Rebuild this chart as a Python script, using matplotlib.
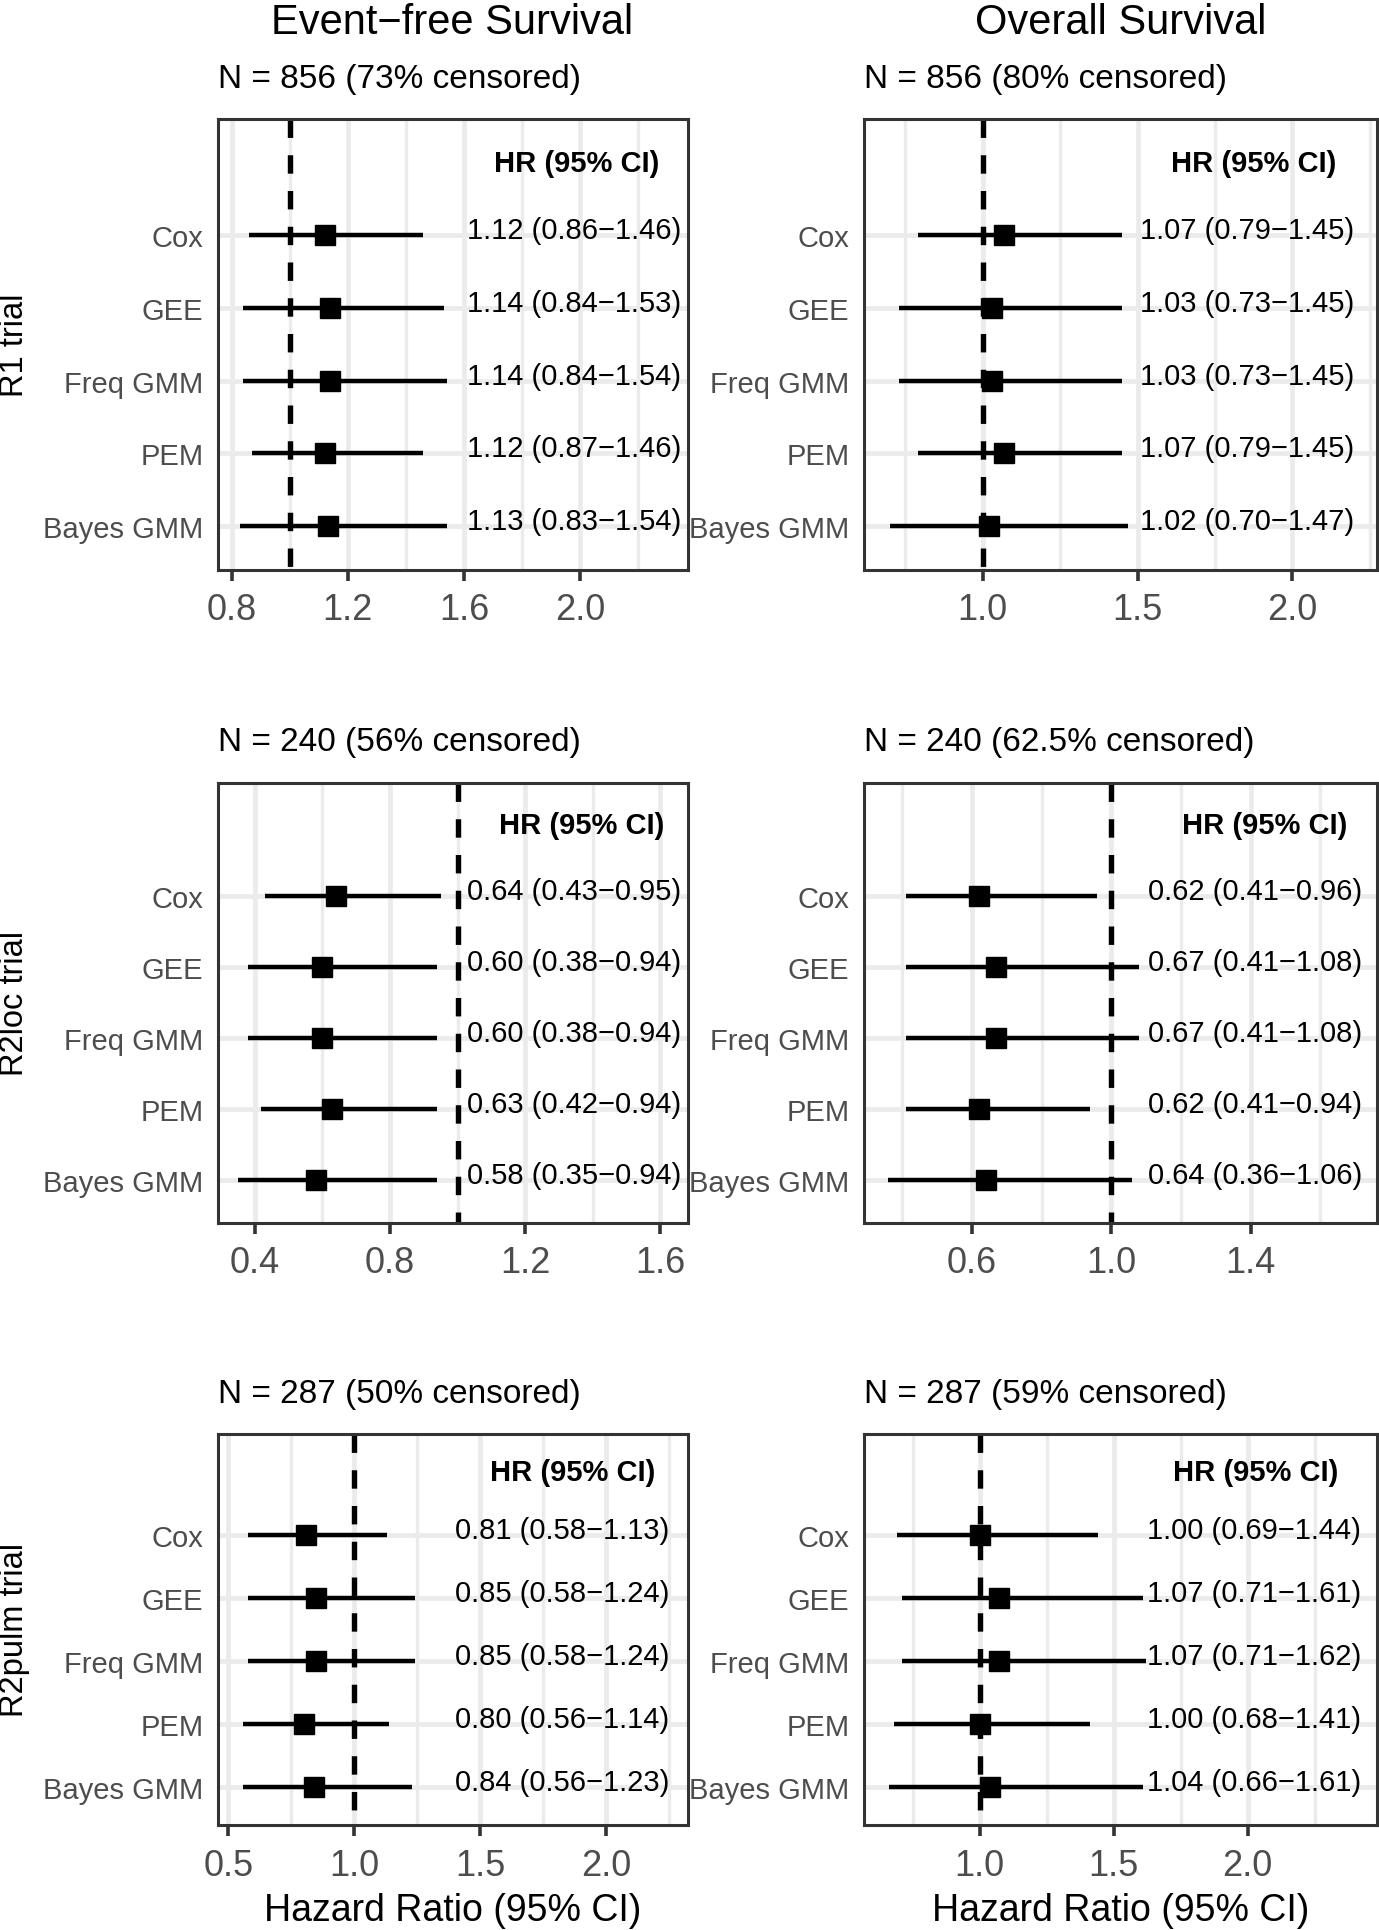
import matplotlib
matplotlib.use("Agg")
import matplotlib.pyplot as plt
import matplotlib.transforms as mtransforms

plt.rcParams['font.family'] = ['Liberation Sans', 'DejaVu Sans']

# ---------------- data ----------------
methods = ["Cox", "GEE", "Freq GMM", "PEM", "Bayes GMM"]
trials = ["R1 trial", "R2loc trial", "R2pulm trial"]
outcomes = ["Event\u2212free Survival", "Overall Survival"]

# Event-free survival
efs_r1_hr = [1.12, 1.14, 1.14, 1.12, 1.13]
efs_r1_lo = [0.86, 0.84, 0.84, 0.87, 0.83]
efs_r1_hi = [1.46, 1.53, 1.54, 1.46, 1.54]

efs_r2loc_hr = [0.64, 0.60, 0.60, 0.63, 0.58]
efs_r2loc_lo = [0.43, 0.38, 0.38, 0.42, 0.35]
efs_r2loc_hi = [0.95, 0.94, 0.94, 0.94, 0.94]

efs_r2pulm_hr = [0.81, 0.85, 0.85, 0.80, 0.84]
efs_r2pulm_lo = [0.58, 0.58, 0.58, 0.56, 0.56]
efs_r2pulm_hi = [1.13, 1.24, 1.24, 1.14, 1.23]

# Overall survival
os_r1_hr = [1.07, 1.03, 1.03, 1.07, 1.02]
os_r1_lo = [0.79, 0.73, 0.73, 0.79, 0.70]
os_r1_hi = [1.45, 1.45, 1.45, 1.45, 1.47]

os_r2loc_hr = [0.62, 0.67, 0.67, 0.62, 0.64]
os_r2loc_lo = [0.41, 0.41, 0.41, 0.41, 0.36]
os_r2loc_hi = [0.96, 1.08, 1.08, 0.94, 1.06]

os_r2pulm_hr = [1.00, 1.07, 1.07, 1.00, 1.04]
os_r2pulm_lo = [0.69, 0.71, 0.71, 0.68, 0.66]
os_r2pulm_hi = [1.44, 1.61, 1.62, 1.41, 1.61]

n_labels = [
    ["N = 856 (73% censored)", "N = 856 (80% censored)"],
    ["N = 240 (56% censored)", "N = 240 (62.5% censored)"],
    ["N = 287 (50% censored)", "N = 287 (59% censored)"],
]

major_ticks = [
    [[0.8, 1.2, 1.6, 2.0], [1.0, 1.5, 2.0]],
    [[0.4, 0.8, 1.2, 1.6], [0.6, 1.0, 1.4]],
    [[0.5, 1.0, 1.5, 2.0], [1.0, 1.5, 2.0]],
]
minor_ticks = [
    [[1.0, 1.4, 1.8, 2.2], [0.75, 1.25, 1.75, 2.25]],
    [[0.6, 1.0, 1.4], [0.4, 0.8, 1.2, 1.6]],
    [[0.75, 1.25, 1.75, 2.25], [0.75, 1.25, 1.75, 2.25]],
]
header = "HR (95% CI)"
xlabel = "Hazard Ratio (95% CI)"
ref_value = 1.0

panels = [
    [(efs_r1_hr, efs_r1_lo, efs_r1_hi), (os_r1_hr, os_r1_lo, os_r1_hi)],
    [(efs_r2loc_hr, efs_r2loc_lo, efs_r2loc_hi), (os_r2loc_hr, os_r2loc_lo, os_r2loc_hi)],
    [(efs_r2pulm_hr, efs_r2pulm_lo, efs_r2pulm_hi), (os_r2pulm_hr, os_r2pulm_lo, os_r2pulm_hi)],
]

# ---------------- layout (pixels) ----------------
W, H = 1379, 1931
col_x = [(217.5, 687.5), (863.5, 1377.0)]
row_y = [(120.0, 570.5), (783.6, 1223.6), (1434.6, 1826.4)]
n_baseline = [88.0, 751.4, 1403.0]
xlims = [
    [(0.751, 2.369), (0.615, 2.273)],
    [(0.290, 1.680), (0.289, 1.763)],
    [(0.4575, 2.324), (0.566, 2.483)],
]
text_xfrac = [[(0.7586, 0.765), (0.747, 0.759)],
              [(0.7586, 0.7756), (0.7617, 0.782)],
              [(0.734, 0.7556), (0.7607, 0.7646)]]

GRID = "#EBEBEB"
BORDER = "#333333"
TICKC = "#4D4D4D"

fig = plt.figure(figsize=(W / 100, H / 100), dpi=100)

nrow = len(methods)
ypos = list(range(nrow, 0, -1))  # Cox at top
header_y = nrow + 1

for r in range(3):
    for c in range(2):
        x0, x1 = col_x[c]
        yt, yb = row_y[r]
        ax = fig.add_axes([x0 / W, 1 - yb / H, (x1 - x0) / W, (yb - yt) / H])
        hr, lo, hi = panels[r][c]
        ax.set_xlim(*xlims[r][c])
        ax.set_ylim(0.4, nrow + 1.6)

        # grid
        for v in minor_ticks[r][c]:
            ax.axvline(v, color=GRID, lw=2.4, zorder=0)
        for v in major_ticks[r][c]:
            ax.axvline(v, color=GRID, lw=3.4, zorder=0)
        for y in ypos:
            ax.axhline(y, color=GRID, lw=3.4, zorder=0)

        # reference line (drawn top to bottom)
        ax.plot([ref_value, ref_value], [nrow + 1.6, 0.4], color="black", lw=3.9,
                linestyle=(0, (3.4, 3.2)), zorder=2, solid_capstyle='butt',
                dash_capstyle='butt')

        # CIs and points
        ax.hlines(ypos, lo, hi, color="black", lw=3.2, zorder=3)
        ax.plot(hr, ypos, 's', color="black", ms=14.5, mew=1, zorder=4)

        # text annotations
        tx, hx = text_xfrac[r][c]
        trans = mtransforms.blended_transform_factory(ax.transAxes, ax.transData)
        off = mtransforms.ScaledTranslation(0, -3 / 100, fig.dpi_scale_trans)
        for y, h_, l_, u_ in zip(ypos, hr, lo, hi):
            s = f"{h_:.2f} ({l_:.2f}\u2212{u_:.2f})"
            ax.text(tx, y, s, transform=trans + off, ha='center', va='baseline',
                    fontsize=21, color='black', zorder=5)
        ax.text(hx, header_y, header, transform=trans, ha='center', va='center',
                fontsize=21, fontweight='bold', color='black', zorder=5)

        # axes styling
        ax.set_yticks(ypos)
        ax.set_yticklabels(methods, fontsize=21, color=TICKC)
        ax.tick_params(axis='y', length=0, pad=10)
        ax.set_xticks(major_ticks[r][c])
        ax.set_xticklabels([f"{v:.1f}" for v in major_ticks[r][c]], fontsize=26, color=TICKC)
        ax.tick_params(axis='x', length=8, width=2.6, color=BORDER, pad=8)
        for sp in ax.spines.values():
            sp.set_color(BORDER)
            sp.set_linewidth(2.2)
            sp.set_zorder(6)

        # N label
        fig.text(x0 / W, 1 - n_baseline[r] / H, n_labels[r][c], ha='left',
                 va='baseline', fontsize=24, color='black')

# column titles
for c in range(2):
    cx = (col_x[c][0] + col_x[c][1]) / 2
    fig.text(cx / W, 1 - 33.6 / H, outcomes[c], ha='center', va='baseline',
             fontsize=30, color='black')
    fig.text(cx / W, 1 - 1921 / H, xlabel, ha='center', va='baseline',
             fontsize=27, color='black')

# row labels
for r in range(3):
    cy = (row_y[r][0] + row_y[r][1]) / 2
    fig.text(15 / W, 1 - cy / H, trials[r], rotation=90, ha='center', va='center',
             fontsize=23.5, color='black')

fig.savefig("out.png", dpi=100, facecolor='white')
